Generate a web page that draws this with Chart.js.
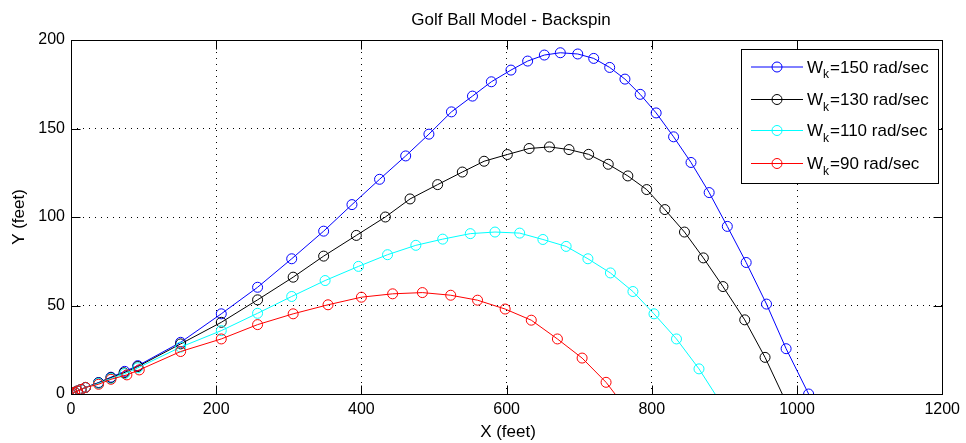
<!DOCTYPE html>
<html>
<head>
<meta charset="utf-8">
<title>Golf Ball Model - Backspin</title>
<script src="https://cdn.jsdelivr.net/npm/chart.js@4.4.1/dist/chart.umd.min.js"></script>
<style>
  html, body { margin: 0; padding: 0; background: #fff; }
  #wrap { width: 966px; height: 443px; }
</style>
</head>
<body>
<div id="wrap"><canvas id="golfChart" width="966" height="443"></canvas></div>
<script>
// Spin rates (rad/sec), one per trajectory
const spinRates = [150, 130, 110, 90];
const seriesColors = ['#0000ff', '#000000', '#00ffff', '#ff0000'];

// Trajectories (feet)
const xW150 = [0, 2, 5, 9, 14, 20, 38, 55, 74, 92, 151, 207, 257, 304, 348, 387, 425, 461, 493, 524, 553, 579, 606, 629, 652, 674, 698, 720, 742, 763, 784, 806, 830, 854, 879, 904, 930, 958, 985, 1016];
const yW150 = [0, 0.4, 1, 1.7, 2.6, 3.7, 6.5, 9.5, 12.8, 16, 29.2, 45.3, 60.3, 76.4, 92, 107, 121.3, 134.5, 146.8, 159.4, 168.3, 176.4, 183, 188.1, 191.5, 192.8, 192.1, 189.6, 184.5, 177.9, 169.3, 158.8, 145.3, 130.8, 113.8, 94.7, 74.3, 50.8, 25.6, 0];

const xW130 = [0, 2, 5, 9, 14, 20, 38, 55, 73, 92, 151, 207, 257, 306, 348, 393, 433, 467, 505, 539, 569, 601, 631, 659, 686, 713, 740, 767, 793, 818, 845, 871, 898, 928, 956, 982];
const yW130 = [0, 0.4, 1, 1.7, 2.6, 3.7, 6.3, 9.2, 12, 15.5, 28.3, 40.5, 53.2, 66, 77.9, 89.6, 100, 110.2, 118.3, 125.4, 131.5, 135.3, 138.7, 139.6, 138.1, 135.4, 129.8, 123.2, 115.5, 104.2, 91.5, 76.9, 60.7, 41.9, 20.7, -2];

const xW110 = [0, 2, 5, 9, 14, 20, 38, 55, 74, 92, 151, 207, 257, 304, 350, 396, 436, 475, 512, 550, 584, 618, 650, 682, 712, 743, 774, 803, 834, 865, 895];
const yW110 = [0, 0.4, 1, 1.7, 2.6, 3.7, 6, 8.8, 11.5, 14.8, 26.5, 35.8, 45.6, 55.1, 64.1, 72.1, 78.7, 84, 87.5, 90.6, 91.5, 90.9, 87.3, 83.4, 76.4, 68.4, 57.9, 45.3, 31.1, 14.2, -5];

const xW90 = [0, 2, 5, 9, 14, 20, 38, 55, 77, 94, 151, 207, 257, 306, 354, 400, 443, 484, 523, 560, 598, 634, 670, 704, 737, 767];
const yW90 = [0, 0.4, 1, 1.7, 2.6, 3.7, 5.5, 8.3, 10.8, 13.6, 24, 31.1, 39.2, 45.3, 50.4, 54.7, 56.6, 57.3, 55.8, 53, 48, 41.7, 31.1, 20.3, 6.6, -9.4];

// Axis ticks
const xTicks = [0, 200, 400, 600, 800, 1000, 1200];
const yTicks = [0, 50, 100, 150, 200];

const FONT = '"Liberation Sans", Arial, Helvetica, sans-serif';
const TICK_LEN = 9;

function toPoints(xs, ys) {
  return xs.map((x, i) => ({ x: x, y: ys[i] }));
}

const allX = [xW150, xW130, xW110, xW90];
const allY = [yW150, yW130, yW110, yW90];

const datasets = spinRates.map((w, i) => ({
  label: 'Wk=' + w + ' rad/sec',
  spin: w,
  data: toPoints(allX[i], allY[i]),
  order: spinRates.length - i, // sidste serie tegnes øverst (som MATLAB)
  borderColor: seriesColors[i],
  backgroundColor: 'transparent',
  borderWidth: 1,
  pointStyle: 'circle',
  pointBorderColor: seriesColors[i],
  pointBackgroundColor: 'transparent',
  pointBorderWidth: 1,
  // punkter under x-aksen tegnes ikke
  pointRadius: ctx => (ctx.raw && ctx.raw.y < 0 ? 0 : 5),
  tension: 0
}));

// MATLAB-style box, inward ticks, title, axis labels and legend
const matlabLook = {
  id: 'matlabLook',
  afterDraw(chart) {
    const { ctx, chartArea: a, scales: { x, y } } = chart;
    const L = Math.round(a.left) + 0.5, R = Math.round(a.right) + 0.5;
    const T = Math.round(a.top) + 0.5, B = Math.round(a.bottom) + 0.5;
    ctx.save();
    ctx.strokeStyle = '#000';
    ctx.lineWidth = 1;
    ctx.setLineDash([]);
    ctx.beginPath();
    xTicks.forEach(v => {
      const px = Math.round(x.getPixelForValue(v)) + 0.5;
      ctx.moveTo(px, B); ctx.lineTo(px, B - TICK_LEN);
      ctx.moveTo(px, T); ctx.lineTo(px, T + TICK_LEN);
    });
    yTicks.forEach(v => {
      const py = Math.round(y.getPixelForValue(v)) + 0.5;
      ctx.moveTo(L, py); ctx.lineTo(L + TICK_LEN, py);
      ctx.moveTo(R, py); ctx.lineTo(R - TICK_LEN, py);
    });
    ctx.stroke();
    ctx.strokeRect(L, T, R - L, B - T);

    // title and axis labels
    ctx.fillStyle = '#000';
    ctx.textAlign = 'center';
    ctx.textBaseline = 'middle';
    ctx.font = '17px ' + FONT;
    ctx.fillText('Golf Ball Model - Backspin', 511, 20);
    ctx.fillText('X (feet)', 508, 432);
    ctx.save();
    ctx.translate(19, 217);
    ctx.rotate(-Math.PI / 2);
    ctx.fillText('Y (feet)', 0, 0);
    ctx.restore();

    // legend
    const box = { x: 741.5, y: 49.5, w: 197, h: 134 };
    const rows = [66.5, 99, 130, 163];
    ctx.fillStyle = '#fff';
    ctx.fillRect(box.x, box.y, box.w, box.h);
    ctx.strokeRect(box.x, box.y, box.w, box.h);
    chart.data.datasets.forEach((ds, i) => {
      const ry = rows[i] + 0.5;
      ctx.strokeStyle = ds.borderColor;
      ctx.beginPath();
      ctx.moveTo(751, ry); ctx.lineTo(803, ry);
      ctx.stroke();
      ctx.beginPath();
      ctx.arc(777, ry, 5, 0, Math.PI * 2);
      ctx.stroke();

      ctx.fillStyle = '#000';
      ctx.textAlign = 'left';
      ctx.textBaseline = 'alphabetic';
      let tx = 807;
      const base = rows[i] + 6;
      ctx.font = '17px ' + FONT;
      ctx.fillText('W', tx, base);
      tx += ctx.measureText('W').width;
      ctx.font = '12px ' + FONT;
      ctx.fillText('k', tx, base + 5.5);
      tx += ctx.measureText('k').width + 1;
      ctx.font = '17px ' + FONT;
      ctx.fillText('=' + ds.spin + ' rad/sec', tx, base);
    });
    ctx.restore();
  }
};

new Chart(document.getElementById('golfChart'), {
  type: 'line',
  data: { datasets },
  plugins: [matlabLook],
  options: {
    responsive: false,
    animation: false,
    events: [],
    layout: { padding: { top: 40, right: 21, left: 0, bottom: 0 } },
    plugins: { legend: { display: false }, tooltip: { enabled: false }, title: { display: false } },
    scales: {
      x: {
        type: 'linear',
        min: 0, max: 1200,
        afterFit(scale) { scale.height = 49; },
        afterBuildTicks(scale) { scale.ticks = xTicks.map(v => ({ value: v })); },
        ticks: { color: '#000', padding: 6, font: { family: FONT, size: 16 }, maxRotation: 0, callback: v => String(v) },
        grid: { color: '#000', lineWidth: 1, drawTicks: false },
        border: { display: false, dash: [1, 5] }
      },
      y: {
        type: 'linear',
        min: 0, max: 200,
        afterFit(scale) { scale.width = 71; },
        afterBuildTicks(scale) { scale.ticks = yTicks.map(v => ({ value: v })); },
        ticks: { color: '#000', padding: 6, font: { family: FONT, size: 16 }, callback: v => String(v) },
        grid: { color: '#000', lineWidth: 1, drawTicks: false },
        border: { display: false, dash: [1, 5] }
      }
    }
  }
});
</script>
</body>
</html>
